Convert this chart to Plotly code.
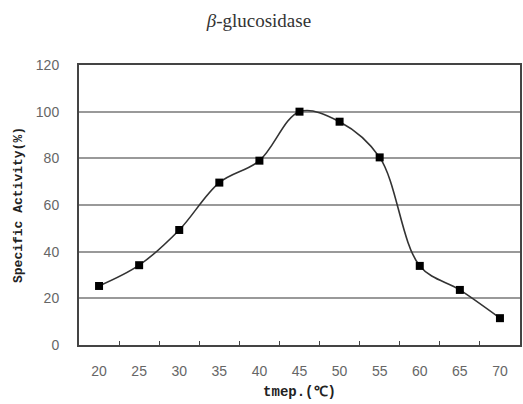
import plotly.graph_objects as go

temps = [20, 25, 30, 35, 40, 45, 50, 55, 60, 65, 70]
activity = [25.3, 34.2, 49.3, 69.6, 79, 100, 95.7, 80.4, 33.9, 23.6, 11.5]
x_ticks = [20, 25, 30, 35, 40, 45, 50, 55, 60, 65, 70]
y_ticks = [0, 20, 40, 60, 80, 100, 120]
between = [22.5, 27.5, 32.5, 37.5, 42.5, 47.5, 52.5, 57.5, 62.5, 67.5]

fig = go.Figure()
fig.add_trace(go.Scatter(
    x=temps, y=activity, mode="lines+markers",
    line=dict(color="#333333", width=1.6, shape="spline", smoothing=1.0),
    marker=dict(symbol="square", size=8, color="#000000"),
    showlegend=False,
))

fig.update_layout(
    width=523, height=404,
    margin=dict(l=79, r=1, t=65, b=59),
    paper_bgcolor="#ffffff", plot_bgcolor="#ffffff",
    title=dict(text="<i>β</i>-glucosidase", x=0.495, xanchor="center", y=0.95, yanchor="middle",
               font=dict(family="Liberation Serif", size=19, color="#333333")),
    xaxis=dict(
        range=[17.5, 72.5], tickmode="array", tickvals=x_ticks,
        ticks="", showgrid=False, zeroline=False,
        showline=True, linecolor="#444444", linewidth=2, mirror=True,
        tickfont=dict(family="Liberation Sans", size=14, color="#666666"),
        ticklabelstandoff=12,
        minor=dict(tickmode="array", tickvals=between, ticks="inside", ticklen=4,
                   tickcolor="#444444", tickwidth=1, showgrid=False),
        title=dict(text="tmep.(℃)", standoff=8,
                   font=dict(family="Liberation Mono", size=14, color="#222222", weight="bold")),
    ),
    yaxis=dict(
        range=[0, 120], tickmode="array", tickvals=y_ticks,
        ticks="", showgrid=True, gridcolor="#999999", gridwidth=1.5, zeroline=False,
        showline=True, linecolor="#444444", linewidth=2, mirror=True,
        tickfont=dict(family="Liberation Sans", size=14, color="#666666"),
        ticklabelstandoff=15,
        title=dict(text="Specific Activity(%)", standoff=10,
                   font=dict(family="Liberation Mono", size=13, color="#222222", weight="bold")),
    ),
)

fig.write_html("out.html", config={"displayModeBar": False},
               post_script="document.body.style.margin='0';")
